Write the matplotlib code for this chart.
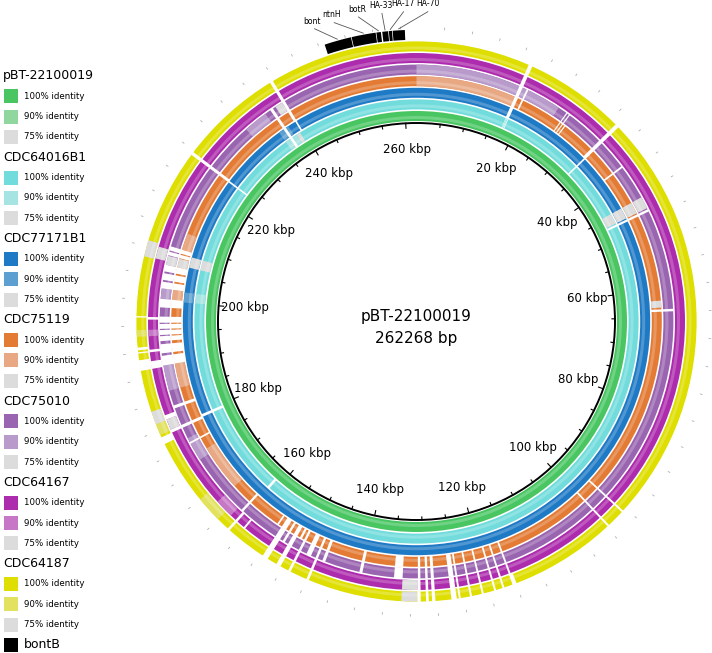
import math
import matplotlib
matplotlib.use("Agg")
import matplotlib.pyplot as plt
from matplotlib.patches import Wedge, Rectangle

GENOME_KBP = 262.268
CX, CY = 416.5, 321.5      # circle centre, pixel coordinates from the top left
H = 653

ring_labels = ["pBT-22100019", "CDC64016B1", "CDC77171B1", "CDC75119",
               "CDC75010", "CDC64167", "CDC64187"]
color_100 = ["#49c662", "#72dcdc", "#1f7ac6", "#e37b35", "#9a65b0", "#ad2cad", "#dede00"]
color_90 = ["#8fd79e", "#a6e3e3", "#5c9fd0", "#e8a883", "#b89acb", "#c677c6", "#e2e260"]
color_75 = "#dcdcdc"

# regions (start kbp, end kbp) per ring: 90 % identity, 75 % identity, no hit
ring_90 = [
    [],
    [(200.1, 201.9), (236.0, 238.5)],
    [(200.1, 201.9), (236.0, 238.0)],
    [(0.0, 17.2), (166.0, 174.0), (185.3, 189.5), (200.4, 202.1), (209.1, 212.0)],
    [(0.0, 17.2), (17.8, 24.5), (173.0, 177.0), (185.3, 189.5), (200.4, 202.1),
     (232.0, 236.0)],
    [(194.4, 195.4), (163.0, 166.0)],
    [(194.4, 195.4), (179.3, 181.0), (164.0, 168.0)],
]
ring_75 = [
    [],
    [(44.5, 46.5), (206.4, 208.3), (238.5, 239.2)],
    [(44.5, 46.5), (206.4, 208.3)],
    [(44.5, 46.5), (62.0, 63.2), (206.0, 207.5)],
    [(44.5, 46.5), (206.0, 207.5), (238.0, 239.3)],
    [(131.0, 133.4), (179.4, 181.1), (206.6, 208.5)],
    [(131.0, 133.4), (181.0, 183.0), (206.5, 209.0)],
]
bottom_cluster = [(116.2, 116.5), (117.8, 118.1), (119.1, 119.4), (121.0, 121.3),
                  (122.8, 123.1), (124.5, 124.8), (125.1, 125.9), (128.3, 128.8),
                  (129.3, 129.7)]
left_cluster = [(147.6, 148.0), (150.6, 151.0), (152.3, 153.0), (154.5, 155.4)]
ring_gap = [
    [],
    [(17.25, 17.35), (17.45, 17.55), (17.65, 17.8), (33.3, 33.6), (46.7, 47.1),
     (161.3, 161.8), (179.2, 179.7), (223.3, 223.6), (237.0, 237.5)],
    [(17.2, 17.8), (33.3, 33.6), (46.7, 47.1), (179.2, 179.7), (223.3, 223.6),
     (237.0, 237.5), (239.5, 239.8)],
    [(17.2, 17.8), (18.5, 18.8), (26.0, 26.2), (26.5, 26.7), (27.0, 27.2), (33.0, 33.6),
     (38.5, 38.8), (46.7, 47.1), (63.5, 63.9), (96.5, 96.8), (99.5, 99.8)]
    + bottom_cluster
    + [(130.5, 130.9), (133.4, 134.8), (140.0, 140.5), (146.3, 146.8), (148.8, 149.6),
       (151.4, 151.8), (153.6, 154.0), (156.0, 156.3), (162.0, 162.4), (176.0, 176.3),
       (178.9, 179.4), (182.3, 182.8), (189.5, 191.1), (191.5, 193.0), (193.5, 194.3),
       (194.5, 195.3), (195.5, 196.3), (196.5, 197.5), (199.0, 200.4), (202.1, 203.2),
       (203.5, 204.6), (204.9, 206.0), (207.6, 208.2), (208.4, 209.1), (223.3, 223.8),
       (237.0, 237.5), (239.3, 239.8)]
    + left_cluster,
    [(17.2, 17.8), (18.5, 18.8), (26.0, 26.2), (26.5, 26.7), (33.0, 33.6), (38.5, 38.8),
     (46.7, 47.1), (63.5, 63.9), (96.5, 96.8), (99.5, 99.8)]
    + bottom_cluster
    + [(130.5, 130.9), (133.4, 134.8), (140.0, 140.5), (146.3, 146.8), (148.8, 149.6),
       (153.6, 154.0), (162.0, 162.4), (176.0, 176.3), (178.9, 179.4), (182.3, 182.8),
       (189.5, 191.1), (191.5, 193.0), (193.5, 194.3), (194.5, 195.3), (195.5, 196.3),
       (196.5, 197.5), (199.0, 200.4), (202.1, 203.2), (203.5, 204.6), (204.9, 206.0),
       (207.6, 208.2), (208.4, 209.1), (223.3, 223.8), (237.0, 237.5), (239.3, 239.8)]
    + left_cluster,
    [(17.2, 17.8), (33.0, 33.6), (96.5, 96.8), (99.5, 99.8)]
    + bottom_cluster
    + [(130.5, 131.0), (160.0, 160.3), (161.6, 162.0), (178.9, 179.4), (181.1, 181.8),
       (189.3, 190.5), (191.9, 192.3), (197.0, 197.4), (223.3, 223.8), (239.3, 239.8)]
    + left_cluster,
    [(17.2, 17.8), (33.0, 33.6), (96.5, 96.8), (99.5, 99.8), (115.9, 116.5)]
    + bottom_cluster
    + [(130.5, 131.0), (161.6, 162.0), (177.8, 178.9), (189.3, 190.9), (191.9, 192.1),
       (192.4, 192.8), (197.3, 197.5), (223.3, 223.8), (239.3, 239.8)]
    + left_cluster,
]

genes = ["bont", "ntnH", "botR", "HA-33", "HA-17", "HA-70"]
gene_start = [248.9, 252.9, 256.5, 257.35, 258.3, 258.85]
gene_end = [252.8, 256.4, 257.15, 258.2, 258.75, 260.6]
gene_label_deg = [-19.2, -15.4, -10.8, -6.4, -2.4, 2.1]

tick_step = 5
label_step = 20
outer_step = 4          # faint outer scale marks


def theta(kbp):
    return 90.0 - kbp / GENOME_KBP * 360.0


def pos(r, deg):
    # deg measured clockwise from 12 o'clock, returns data coords
    a = math.radians(deg)
    return CX + r * math.sin(a), H - (CY - r * math.cos(a))


def arc(ax, r_in, width, s, e, color, **kw):
    ax.add_patch(Wedge((CX, H - CY), r_in + width, theta(e), theta(s),
                       width=width, facecolor=color, edgecolor="none", lw=0, **kw))


fig = plt.figure(figsize=(7.12, 6.53), dpi=100)
ax = fig.add_axes([0, 0, 1, 1])
ax.set_xlim(0, 712)
ax.set_ylim(0, H)
ax.set_aspect("equal")
ax.axis("off")

ring_w = 10.0
for i in range(len(ring_labels)):
    r_in = 200.5 + 11.6 * i
    arc(ax, r_in, ring_w, 0, GENOME_KBP, color_100[i])
    for s, e in ring_90[i]:
        arc(ax, r_in, ring_w, s, e, color_90[i])
    for s, e in ring_75[i]:
        arc(ax, r_in, ring_w, s, e, color_75)
    # glossy stripe that the BRIG rings have
    arc(ax, r_in + 2.0, 3.0, 0, GENOME_KBP, "white", alpha=0.22)
    for s, e in ring_gap[i]:
        arc(ax, r_in - 0.5, ring_w + 1.0, s, e, "white")

# backbone circle, ticks and labels
r0 = 198.5
ax.add_patch(plt.Circle((CX, H - CY), r0, fill=False, color="black", lw=1.4))
k = tick_step
while k < GENOME_KBP:
    deg = k / GENOME_KBP * 360.0
    ln = 5 if k % label_step == 0 else 3
    x1, y1 = pos(r0, deg)
    x2, y2 = pos(r0 - ln, deg)
    ax.plot([x1, x2], [y1, y2], color="black", lw=0.8)
    if k % label_step == 0:
        tx, ty = pos(172, deg)
        ax.text(tx, ty, f"{k} kbp", ha="center", va="center", fontsize=8.5)
    k += tick_step

k = outer_step
while k < GENOME_KBP:
    deg = k / GENOME_KBP * 360.0
    x1, y1 = pos(293.0, deg)
    x2, y2 = pos(294.8, deg)
    ax.plot([x1, x2], [y1, y2], color="#b0b0b0", lw=0.6)
    k += outer_step

ax.text(CX, H - 317, ring_labels[0], ha="center", va="center", fontsize=11)
ax.text(CX, H - 339, f"{int(GENOME_KBP * 1000)} bp", ha="center", va="center", fontsize=11)

# bontB gene cluster
r_g = 200.5 + 11.6 * 7
for s, e in zip(gene_start, gene_end):
    arc(ax, r_g, ring_w, s, e, "black")
for name, s, e, ld in zip(genes, gene_start, gene_end, gene_label_deg):
    mid = (s + e) / 2 / GENOME_KBP * 360.0
    x1, y1 = pos(r_g + ring_w + 1.5, mid)
    x2, y2 = pos(310, ld)
    ax.plot([x1, x2], [y1, y2], color="#555555", lw=0.6)
    tx, ty = pos(318, ld)
    ax.text(tx, ty, name, ha="center", va="center", fontsize=5.5)

# legend on the left
rows = []
for i, name in enumerate(ring_labels):
    rows.append(("title", name, None))
    rows.append(("swatch", "100% identity", color_100[i]))
    rows.append(("swatch", "90% identity", color_90[i]))
    rows.append(("swatch", "75% identity", color_75))
rows.append(("gene", "bontB", "black"))

for j, (kind, txt, col) in enumerate(rows):
    y = H - (76 + 20.32 * j)
    if kind == "title":
        ax.text(3, y, txt, ha="left", va="center", fontsize=9)
    else:
        ax.add_patch(Rectangle((4, y - 7), 14, 14, facecolor=col, edgecolor="none"))
        ax.text(24, y, txt, ha="left", va="center",
                fontsize=9 if kind == "gene" else 6.2)

fig.savefig("out.png", dpi=100)
